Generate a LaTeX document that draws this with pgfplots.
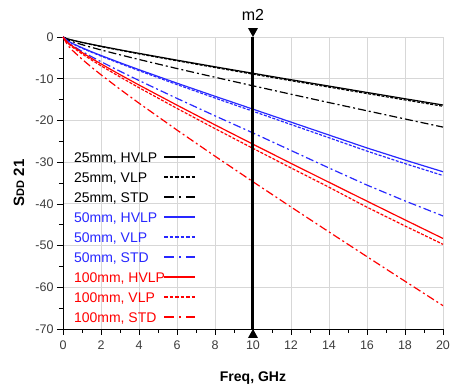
\documentclass[border=0pt]{standalone}
\usepackage{fontspec}
\setmainfont{Liberation Sans}
\usepackage{pgfplots}
\pgfplotsset{compat=1.18}
\definecolor{myblue}{RGB}{40,40,255}
\definecolor{myred}{RGB}{255,0,0}
\definecolor{gridgray}{RGB}{215,215,215}
\definecolor{ticktext}{RGB}{60,60,60}
\tikzset{
  vlp/.style={dash pattern=on 3pt off 1.5pt},
  std/.style={dash pattern=on 8pt off 3pt on 2pt off 3pt},
}
\newcommand{\rl}[1]{\rule[4.2pt]{#1}{2pt}}
\newcommand{\sampsol}{\rl{31pt}}
\newcommand{\sampvlp}{\rl{3.6pt}\hspace{1.9pt}\rl{3.6pt}\hspace{1.9pt}\rl{3.6pt}\hspace{1.9pt}\rl{3.6pt}\hspace{1.9pt}\rl{3.6pt}\hspace{1.9pt}\rl{3.6pt}}
\newcommand{\sampstd}{\rl{10pt}\hspace{5pt}\rl{2pt}\hspace{5pt}\rl{9pt}}
\newcommand{\leg}[3]{\textcolor{#1}{\makebox[90pt][l]{#3}#2}}
\begin{document}
\begin{tikzpicture}[x=1pt,y=1pt]
\useasboundingbox (-63,-62) rectangle (388,329);
\begin{axis}[
  at={(0,0)}, anchor=south west,
  scale only axis, width=380pt, height=292pt,
  xmin=0, xmax=20, ymin=-70, ymax=0,
  clip=false,
  axis x line=bottom, axis y line=left,
  axis line style={line width=0.9pt, black, -},
  xtick={0,2,...,20}, ytick={-70,-60,...,0},
  xticklabels={0,2,4,6,8,10,12,14,16,18,20},
  yticklabels={-70,-60,-50,-40,-30,-20,-10,0},
  minor x tick num=1, minor y tick num=1,
  tick align=outside,
  major tick length=6pt, minor tick length=4pt,
  every tick/.style={black, line width=0.7pt},
  grid=major,
  major grid style={gridgray, line width=0.9pt},
  ticklabel style={font=\fontsize{12.5}{14}\selectfont, text=ticktext},
  xticklabel style={yshift=-2pt},
  xlabel={\bfseries Freq, GHz},
  xlabel style={at={(axis description cs:0.5,0)}, yshift=-49pt, anchor=center, font=\fontsize{14}{16}\selectfont},
  ylabel={\bfseries\fontsize{15}{16}\selectfont S{\fontsize{11}{12}\selectfont DD} 21},
  ylabel style={at={(axis description cs:-0.1158,0.5)}, anchor=center},
  legend plot pos=none,
  legend cell align=left,
  legend style={draw=none, fill=none, at={(axis description cs:0.018,0.615)}, anchor=north west,
    font=\fontsize{14}{16}\selectfont, row sep=5pt,
    nodes={inner sep=1pt, text height=10pt, text depth=3pt}},
  every axis plot/.append style={line width=1.2pt},
]
% 25mm HVLP
\addplot[draw=black] coordinates {(0,0)(0.25,-0.47)(0.5,-0.76)(1,-1.28)(1.5,-1.75)(2,-2.20)(3,-3.08)(4,-3.92)(6,-5.55)(8,-7.14)(10,-8.70)(12,-10.24)(14,-11.77)(16,-13.29)(18,-14.80)(20,-16.30)};
\addlegendentry{\leg{black}{\sampsol}{25mm, HVLP}}
% 25mm VLP
\addplot[draw=black, vlp] coordinates {(0,0)(0.25,-0.50)(0.5,-0.80)(1,-1.33)(1.5,-1.82)(2,-2.29)(3,-3.18)(4,-4.04)(6,-5.70)(8,-7.31)(10,-8.90)(12,-10.47)(14,-12.01)(16,-13.55)(18,-15.08)(20,-16.60)};
\addlegendentry{\leg{black}{\sampvlp}{25mm, VLP}}
% 25mm STD
\addplot[draw=black, std] coordinates {(0,0)(0.25,-0.70)(0.5,-1.12)(1,-1.83)(1.5,-2.48)(2,-3.10)(3,-4.27)(4,-5.39)(6,-7.56)(8,-9.65)(10,-11.70)(12,-13.72)(14,-15.72)(16,-17.69)(18,-19.65)(20,-21.60)};
\addlegendentry{\leg{black}{\sampstd}{25mm, STD}}
% 50mm HVLP
\addplot[draw=myblue] coordinates {(0,0)(0.25,-0.95)(0.5,-1.55)(1,-2.58)(1.5,-3.53)(2,-4.43)(3,-6.16)(4,-7.83)(6,-11.07)(8,-14.21)(10,-17.30)(12,-20.40)(14,-23.50)(16,-26.60)(18,-29.50)(20,-32.30)};
\addlegendentry{\leg{myblue}{\sampsol}{50mm, HVLP}}
% 50mm VLP
\addplot[draw=myblue, vlp] coordinates {(0,0)(0.25,-0.99)(0.5,-1.60)(1,-2.67)(1.5,-3.64)(2,-4.57)(3,-6.35)(4,-8.07)(6,-11.40)(8,-14.63)(10,-17.80)(12,-20.98)(14,-24.15)(16,-27.35)(18,-30.35)(20,-33.20)};
\addlegendentry{\leg{myblue}{\sampvlp}{50mm, VLP}}
% 50mm STD
\addplot[draw=myblue, std] coordinates {(0,0)(0.25,-1.28)(0.5,-2.07)(1,-3.44)(1.5,-4.71)(2,-5.91)(3,-8.21)(4,-10.43)(6,-14.72)(8,-18.90)(10,-23.00)(12,-27.20)(14,-31.40)(16,-35.50)(18,-39.30)(20,-42.90)};
\addlegendentry{\leg{myblue}{\sampstd}{50mm, STD}}
% 100mm HVLP
\addplot[draw=myred] coordinates {(0,0)(0.25,-1.35)(0.5,-2.20)(1,-3.71)(1.5,-5.11)(2,-6.45)(3,-9.02)(4,-11.51)(6,-16.34)(8,-21.06)(10,-25.70)(12,-30.29)(14,-34.83)(16,-39.35)(18,-43.84)(20,-48.30)};
\addlegendentry{\leg{myred}{\sampsol}{100mm, HVLP}}
% 100mm VLP
\addplot[draw=myred, vlp] coordinates {(0,0)(0.25,-1.51)(0.5,-2.43)(1,-4.04)(1.5,-5.50)(2,-6.90)(3,-9.57)(4,-12.15)(6,-17.12)(8,-21.96)(10,-26.70)(12,-31.38)(14,-36.01)(16,-40.80)(18,-45.30)(20,-49.70)};
\addlegendentry{\leg{myred}{\sampvlp}{100mm, VLP}}
% 100mm STD
\addplot[draw=myred, std] coordinates {(0,0)(0.25,-2.00)(0.5,-3.22)(1,-5.32)(1.5,-7.23)(2,-9.05)(3,-12.52)(4,-15.86)(6,-22.31)(8,-28.57)(10,-34.70)(12,-40.75)(14,-46.73)(16,-52.66)(18,-58.55)(20,-64.40)};
\addlegendentry{\leg{myred}{\sampstd}{100mm, STD}}
% marker m2
\addplot[draw=black, line width=3pt, forget plot] coordinates {(10,-70)(10,0)};
\coordinate (mtop) at (axis cs:10,0);
\coordinate (mbot) at (axis cs:10,-70);
\end{axis}
\fill[black] (mtop) -- ++(-5,9) -- ++(10,0) -- cycle;
\fill[black] (mbot) -- ++(-5,-9) -- ++(10,0) -- cycle;
\node[font=\fontsize{16}{18}\selectfont] at ([yshift=22pt]mtop) {m2};
\end{tikzpicture}
\end{document}
